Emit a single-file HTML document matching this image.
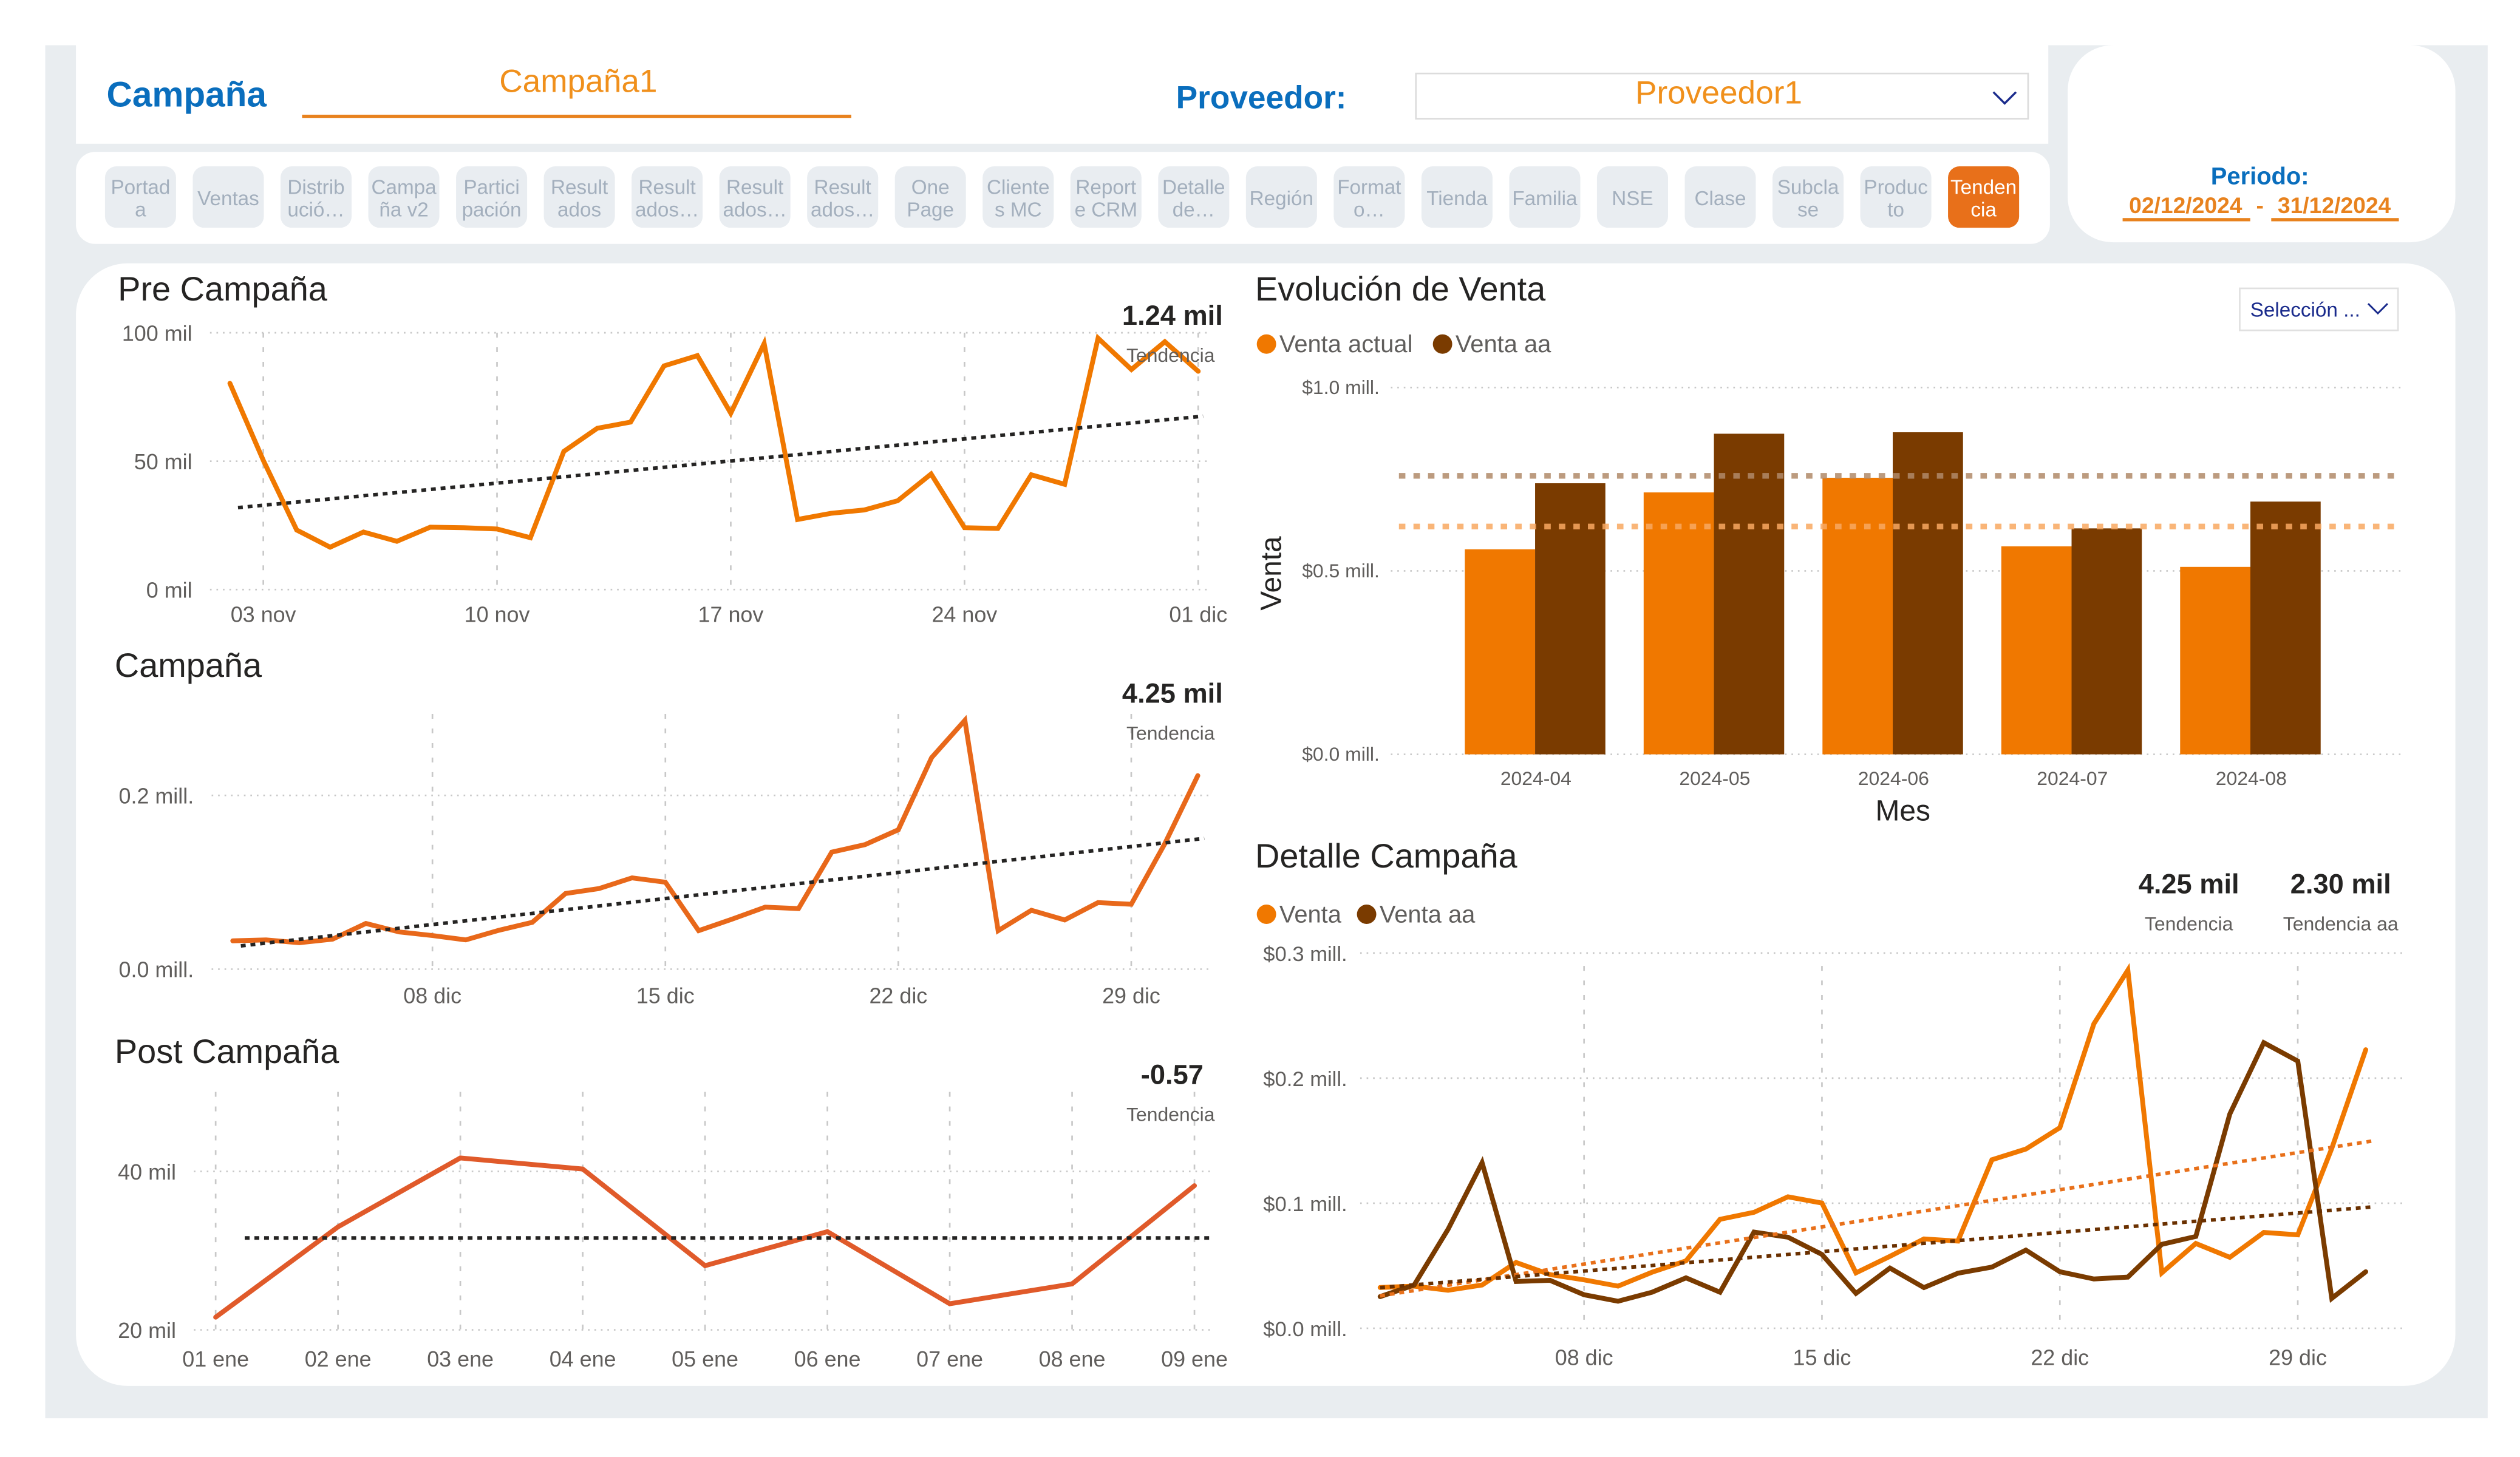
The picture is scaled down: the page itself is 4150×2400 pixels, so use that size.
<!DOCTYPE html>
<html><head><meta charset="utf-8">
<style>
html,body{margin:0;padding:0;background:#fff;}
svg{display:block;font-family:"Liberation Sans",sans-serif;}
</style></head>
<body>
<svg id="root" width="4150" height="2400" viewBox="0 0 1560 902" preserveAspectRatio="none" xmlns="http://www.w3.org/2000/svg">
<rect x="28" y="28" width="1512" height="850" fill="#e9edf0"/>
<rect x="47" y="28" width="1221" height="61" fill="#fff"/>
<text x="66" y="66" font-size="22" font-weight="bold" fill="#0a6ebd">Campaña</text>
<text x="358" y="57" font-size="20" fill="#f0901c" text-anchor="middle">Campaña1</text>
<rect x="187" y="71" width="340" height="2" fill="#e8821e"/>
<text x="728" y="67" font-size="20" font-weight="bold" fill="#0a6ebd">Proveedor:</text>
<g>
<rect x="876.5" y="45.5" width="379" height="28" fill="#fff" stroke="#dcdcdc"/>
<text x="1064" y="64" font-size="20" fill="#f0901c" text-anchor="middle">Proveedor1</text>
<path d="M1234 57 l7 7 l7 -7" fill="none" stroke="#1a2b8c" stroke-width="1.3"/>
</g>
<rect x="47" y="94" width="1222" height="57" rx="12" fill="#fff"/>
<g id="nav"></g>
<rect x="1280" y="28" width="240" height="122" rx="28" fill="#fff"/>
<text x="1399" y="114" font-size="15" font-weight="bold" fill="#0a6ebd" text-anchor="middle">Periodo:</text>
<text x="1353" y="132" font-size="14" font-weight="bold" fill="#e8821e" text-anchor="middle">02/12/2024</text>
<text x="1399" y="132" font-size="14" font-weight="bold" fill="#e8821e" text-anchor="middle">-</text>
<text x="1445" y="132" font-size="14" font-weight="bold" fill="#e8821e" text-anchor="middle">31/12/2024</text>
<rect x="1314" y="135" width="79" height="2" fill="#e8821e"/>
<rect x="1406" y="135" width="79" height="2" fill="#e8821e"/>
<rect x="47" y="163" width="1473" height="695" rx="32" fill="#fff"/>
<g id="charts"></g>
</svg>
<script>
// ---- data ----
const navLabels = [["Portad","a"],["Ventas"],["Distrib","ució…"],["Campa","ña v2"],["Partici","pación"],["Result","ados"],["Result","ados…"],["Result","ados…"],["Result","ados…"],["One","Page"],["Cliente","s MC"],["Report","e CRM"],["Detalle","de…"],["Región"],["Format","o…"],["Tienda"],["Familia"],["NSE"],["Clase"],["Subcla","se"],["Produc","to"],["Tenden","cia"]];

const preDays = [2,3,4,5,6,7,8,9,10,11,12,13,14,15,16,17,18,19,20,21,22,23,24,25,26,27,28,29,30,31];
const preValues = [80.3,50.3,23.2,16.5,22.4,18.8,24.3,24.1,23.6,20.2,53.8,62.8,65.2,87.1,91.1,68.7,95.8,27.3,29.7,31,34.6,45,24.1,23.8,44.7,41,97.9,85.7,96.5,85];
const preTrend = [31.9,67.5];
const preTickDays = [3,10,17,24,31];
const preTickLabels = ["03 nov","10 nov","17 nov","24 nov","01 dic"];
const preYTicks = [0,50,100];
const preYLabels = ["0 mil","50 mil","100 mil"];

const campDays = [2,3,4,5,6,7,8,9,10,11,12,13,14,15,16,17,18,19,20,21,22,23,24,25,26,27,28,29,30,31];
const campValues = [32.6,33.7,30.4,34.6,52.6,42.9,38.7,33.7,44.8,53.9,87.1,92.7,105.1,100.1,44.3,57.5,71.4,69.7,134.7,143.3,160.4,243.4,286.3,44.3,67.8,56.7,76.6,74.7,143.8,222.7];
const campTrend = [26.8,150.5];
const campTickDays = [8,15,22,29];
const campTickLabels = ["08 dic","15 dic","22 dic","29 dic"];
const campYTicks = [0,200];
const campYLabels = ["0.0 mill.","0.2 mill."];

const postDays = [1,2,3,4,5,6,7,8,9];
const postValues = [21.6,33.0,41.7,40.3,28.1,32.4,23.3,25.8,38.2];
const postTrend = [31.6,31.6];
const postTickLabels = ["01 ene","02 ene","03 ene","04 ene","05 ene","06 ene","07 ene","08 ene","09 ene"];
const postYTicks = [20,40];
const postYLabels = ["20 mil","40 mil"];

const months = ["2024-04","2024-05","2024-06","2024-07","2024-08"];
const ventaActual = [0.559,0.714,0.754,0.567,0.511];
const ventaAA = [0.739,0.874,0.878,0.616,0.689];
const evoYTicks = [0,0.5,1.0];
const evoYLabels = ["$0.0 mill.","$0.5 mill.","$1.0 mill."];

const detDays = [2,3,4,5,6,7,8,9,10,11,12,13,14,15,16,17,18,19,20,21,22,23,24,25,26,27,28,29,30,31];
const detVenta = [32.6,33.7,30.4,34.6,52.6,42.9,38.7,33.7,44.8,53.9,87.1,92.7,105.1,100.1,44.3,57.5,71.4,69.7,134.7,143.3,160.4,243.4,286.3,44.3,67.8,56.7,76.6,74.7,143.8,222.7];
const detVentaAA = [25.3,34.5,79.2,132.4,37.4,38.3,26.8,21.6,28.8,40.3,28.8,76.9,72.8,59.0,27.9,48.1,32.5,44.0,48.9,62.5,45.2,39.4,40.9,67.1,73.4,171.3,228.3,213.6,23.9,45.2];
const detTrend = [25.9,149.7];
const detTrendAA = [32.5,97.0];
const detYTicks = [0,100,200,300];
const detYLabels = ["$0.0 mill.","$0.1 mill.","$0.2 mill.","$0.3 mill."];

// ---- drawing ----
const NS = "http://www.w3.org/2000/svg";
const charts = document.getElementById("charts");
function mk(tag, attrs, parent){
  const el = document.createElementNS(NS, tag);
  for (const k in attrs) el.setAttribute(k, attrs[k]);
  (parent||charts).appendChild(el);
  return el;
}
function txt(str, attrs, name, parent){
  const el = mk("text", attrs, parent);
  el.textContent = str;
  
  
  return el;
}

// nav buttons
const nav = document.getElementById("nav");
navLabels.forEach((lab, i) => {
  const g = mk("g", {}, nav);
  
  
  const x = 65 + i * 54.33;
  const active = i === navLabels.length - 1;
  mk("rect", {x:x, y:103, width:44, height:38, rx:7, fill: active ? "#e8701a" : "#e9edf1"}, g);
  const col = active ? "#fff" : "#a3afbd";
  if (lab.length === 1) {
    const t = mk("text", {x:x+22, y:127, "font-size":12.5, fill:col, "text-anchor":"middle"}, g);
    t.textContent = lab[0];
  } else {
    const t1 = mk("text", {x:x+22, y:120, "font-size":12.5, fill:col, "text-anchor":"middle"}, g);
    t1.textContent = lab[0];
    const t2 = mk("text", {x:x+22, y:134, "font-size":12.5, fill:col, "text-anchor":"middle"}, g);
    t2.textContent = lab[1];
  }
});

function hgrid(y, x0, x1, name){
  const l = mk("line", {x1:x0, x2:x1, y1:y, y2:y, stroke:"#c8c8c8", "stroke-width":1, "stroke-dasharray":"1 3"});
  
  
}
function vgrid(x, y0, y1, name){
  const l = mk("line", {x1:x, x2:x, y1:y0, y2:y1, stroke:"#c8c8c8", "stroke-width":1, "stroke-dasharray":"3 6"});
  
  
}
function polyline(xs, ys, color, width, name){
  const pts = xs.map((x,i)=>x.toFixed(2)+","+ys[i].toFixed(2)).join(" ");
  const p = mk("polyline", {points:pts, fill:"none", stroke:color, "stroke-width":width, "stroke-linejoin":"miter", "stroke-linecap":"round"});
  
  
}
function trend(x0,y0,x1,y1,color,name){
  const l = mk("line", {x1:x0,y1:y0,x2:x1,y2:y1, stroke:color, "stroke-width":2.2, "stroke-dasharray":"3 3"});
  
  
}

// Pre Campaña
(function(){
  const X = d => 163 + (d-3)*20.67;
  const Y = v => 365 - v*(365-206)/100;
  txt("Pre Campaña", {x:73, y:186, "font-size":21, fill:"#252423"}, "pre-campaign-title");
  preYTicks.forEach((t,i)=>{ hgrid(Y(t),130,750,"pre-y-grid"); txt(preYLabels[i],{x:119,y:Y(t)+5,"font-size":13.5,fill:"#605e5c","text-anchor":"end"},"pre-y-tick-label"); });
  preTickDays.forEach((d,i)=>{ vgrid(X(d),206,365,"pre-x-grid"); txt(preTickLabels[i],{x:X(d),y:385,"font-size":13.5,fill:"#605e5c","text-anchor":"middle"},"pre-x-tick-label"); });
  polyline(preDays.map(X), preValues.map(Y), "#f07800", 3, "pre-campaign-line");
  trend(X(preDays[0])+5, Y(preTrend[0]), X(preDays[preDays.length-1])+3, Y(preTrend[1]), "#252423", "pre-trend-line");
  txt("1.24 mil",{x:757,y:201,"font-size":17,"font-weight":"bold",fill:"#252423","text-anchor":"end"},"pre-trend-value");
  txt("Tendencia",{x:752,y:224,"font-size":12,fill:"#605e5c","text-anchor":"end"},"pre-trend-label");
})();

// Campaña
(function(){
  const X = d => 267.7 + (d-8)*20.6;
  const Y = v => 600 - v*(600-492.4)/200;
  txt("Campaña", {x:71, y:419, "font-size":21, fill:"#252423"}, "campaign-title");
  campYTicks.forEach((t,i)=>{ hgrid(Y(t),131,750,"camp-y-grid"); txt(campYLabels[i],{x:120,y:Y(t)+5,"font-size":13.5,fill:"#605e5c","text-anchor":"end"},"camp-y-tick-label"); });
  campTickDays.forEach((d,i)=>{ vgrid(X(d),442,600,"camp-x-grid"); txt(campTickLabels[i],{x:X(d),y:621,"font-size":13.5,fill:"#605e5c","text-anchor":"middle"},"camp-x-tick-label"); });
  polyline(campDays.map(X), campValues.map(Y), "#e8681a", 3, "campaign-line");
  trend(X(campDays[0])+5, Y(campTrend[0]), X(campDays[campDays.length-1])+4, Y(campTrend[1]), "#252423", "camp-trend-line");
  txt("4.25 mil",{x:757,y:435,"font-size":17,"font-weight":"bold",fill:"#252423","text-anchor":"end"},"camp-trend-value");
  txt("Tendencia",{x:752,y:458,"font-size":12,fill:"#605e5c","text-anchor":"end"},"camp-trend-label");
})();

// Post Campaña
(function(){
  const X = d => 133.5 + (d-1)*75.74;
  const Y = v => 823.3 - (v-20)*(823.3-725.2)/20;
  txt("Post Campaña", {x:71, y:658, "font-size":21, fill:"#252423"}, "post-campaign-title");
  postYTicks.forEach((t,i)=>{ hgrid(Y(t),120,750,"post-y-grid"); txt(postYLabels[i],{x:109,y:Y(t)+5,"font-size":13.5,fill:"#605e5c","text-anchor":"end"},"post-y-tick-label"); });
  postDays.forEach((d,i)=>{ vgrid(X(d),676,823,"post-x-grid"); txt(postTickLabels[i],{x:X(d),y:846,"font-size":13.5,fill:"#605e5c","text-anchor":"middle"},"post-x-tick-label"); });
  polyline(postDays.map(X), postValues.map(Y), "#e05a2a", 3, "post-campaign-line");
  trend(X(postDays[0])+18, Y(postTrend[0]), X(postDays[postDays.length-1])+10, Y(postTrend[1]), "#252423", "post-trend-line");
  txt("-0.57",{x:745,y:671,"font-size":17,"font-weight":"bold",fill:"#252423","text-anchor":"end"},"post-trend-value");
  txt("Tendencia",{x:752,y:694,"font-size":12,fill:"#605e5c","text-anchor":"end"},"post-trend-label");
})();

// Evolución de Venta
(function(){
  const Y = v => 467 - v*(467-239.9);
  const C = i => 950.8 + i*110.7;
  txt("Evolución de Venta", {x:777, y:186, "font-size":21, fill:"#252423"}, "sales-evolution-title");
  const dd = mk("g", {});
  
  
  mk("rect",{x:1386.5,y:178.5,width:98,height:26,fill:"#fff",stroke:"#e0e0e0"},dd);
  const st = mk("text",{x:1393,y:196,"font-size":12.5,fill:"#1a2b8c"},dd); st.textContent="Selección ...";
  mk("path",{d:"M1466 188 l6 6 l6 -6",fill:"none",stroke:"#1a2b8c","stroke-width":1.1},dd);
  const lg1 = mk("circle",{cx:784,cy:213,r:6,fill:"#f07800"});
  
  
  txt("Venta actual",{x:792,y:218,"font-size":15,fill:"#605e5c"},"legend-venta-actual");
  const lg2 = mk("circle",{cx:893,cy:213,r:6,fill:"#7a3b00"});
  
  
  txt("Venta aa",{x:901,y:218,"font-size":15,fill:"#605e5c"},"legend-venta-aa");
  evoYTicks.forEach((t,i)=>{ hgrid(Y(t),861,1487,"evo-y-grid"); txt(evoYLabels[i],{x:854,y:Y(t)+4,"font-size":12,fill:"#605e5c","text-anchor":"end"},"evo-y-tick-label"); });
  months.forEach((m,i)=>{
    const b1 = mk("rect",{x:C(i)-44,y:Y(ventaActual[i]),width:43.5,height:Y(0)-Y(ventaActual[i]),fill:"#f07800"});
    
    
    const b2 = mk("rect",{x:C(i)-0.5,y:Y(ventaAA[i]),width:43.5,height:Y(0)-Y(ventaAA[i]),fill:"#7a3b00"});
    
    
    txt(m,{x:C(i),y:486,"font-size":12,fill:"#605e5c","text-anchor":"middle"},"evo-x-tick-label");
  });
  const avgA = ventaActual.reduce((a,b)=>a+b,0)/ventaActual.length;
  const avgB = ventaAA.reduce((a,b)=>a+b,0)/ventaAA.length;
  const a1 = mk("line",{x1:866,x2:1487,y1:Y(avgB),y2:Y(avgB),stroke:"#b08a68","stroke-opacity":0.85,"stroke-width":3.5,"stroke-dasharray":"4 5"});
  
  
  const a2 = mk("line",{x1:866,x2:1487,y1:Y(avgA),y2:Y(avgA),stroke:"#f8a860","stroke-opacity":0.85,"stroke-width":3.5,"stroke-dasharray":"4 5"});
  
  
  txt("Venta",{x:0,y:0,"font-size":18,fill:"#252423","text-anchor":"middle",transform:"translate(793 355) rotate(-90)"},"evo-y-axis-title");
  txt("Mes",{x:1178,y:508,"font-size":18,fill:"#252423","text-anchor":"middle"},"evo-x-axis-title");
})();

// Detalle Campaña
(function(){
  const X = d => 980.6 + (d-8)*21.04;
  const Y = v => 822.3 - v*(822.3-590)/300;
  txt("Detalle Campaña", {x:777, y:537, "font-size":21, fill:"#252423"}, "campaign-detail-title");
  const l1 = mk("circle",{cx:784,cy:566,r:6,fill:"#f07800"});
  
  
  txt("Venta",{x:792,y:571,"font-size":15,fill:"#605e5c"},"legend-venta");
  const l2 = mk("circle",{cx:846,cy:566,r:6,fill:"#7a3b00"});
  
  
  txt("Venta aa",{x:854,y:571,"font-size":15,fill:"#605e5c"},"legend-venta-aa-detail");
  detYTicks.forEach((t,i)=>{ hgrid(Y(t),842,1487,"det-y-grid"); txt(detYLabels[i],{x:834,y:Y(t)+5,"font-size":13,fill:"#605e5c","text-anchor":"end"},"det-y-tick-label"); });
  campTickDays.forEach((d,i)=>{ vgrid(X(d),598,822,"det-x-grid"); txt(campTickLabels[i],{x:X(d),y:845,"font-size":13.5,fill:"#605e5c","text-anchor":"middle"},"det-x-tick-label"); });
  polyline(detDays.map(X), detVenta.map(Y), "#f07800", 3, "detail-venta-line");
  polyline(detDays.map(X), detVentaAA.map(Y), "#7a3b00", 3, "detail-venta-aa-line");
  trend(X(detDays[0]), Y(detTrend[0]), X(detDays[detDays.length-1])+4, Y(detTrend[1]), "#e8701a", "detail-trend-line");
  trend(X(detDays[0]), Y(detTrendAA[0]), X(detDays[detDays.length-1])+4, Y(detTrendAA[1]), "#6a3000", "detail-trend-aa-line");
  txt("4.25 mil",{x:1355,y:553,"font-size":17,"font-weight":"bold",fill:"#252423","text-anchor":"middle"},"det-trend-value");
  txt("Tendencia",{x:1355,y:576,"font-size":12,fill:"#605e5c","text-anchor":"middle"},"det-trend-label");
  txt("2.30 mil",{x:1449,y:553,"font-size":17,"font-weight":"bold",fill:"#252423","text-anchor":"middle"},"det-trend-aa-value");
  txt("Tendencia aa",{x:1449,y:576,"font-size":12,fill:"#605e5c","text-anchor":"middle"},"det-trend-aa-label");
})();
</script>
</body></html>
